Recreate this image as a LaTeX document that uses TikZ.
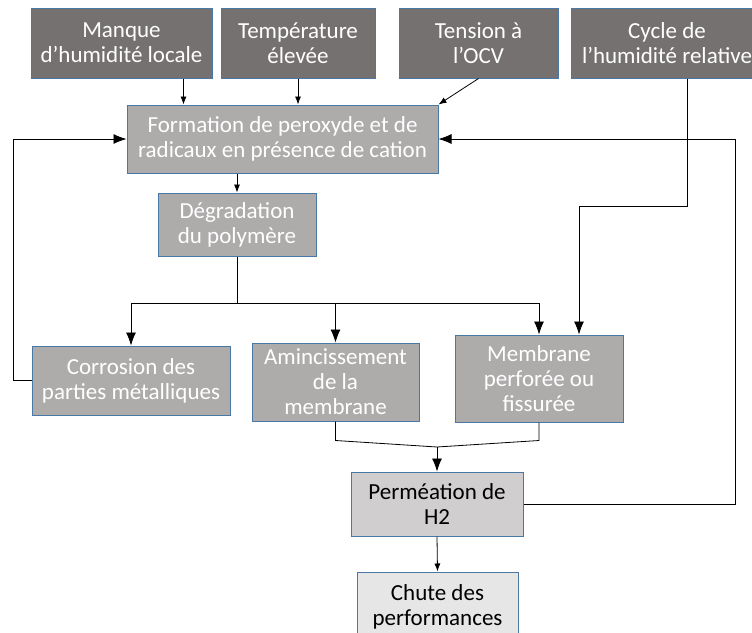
\documentclass[tikz,border=0pt]{standalone}
\usepackage{fontspec}
\setmainfont{Carlito}
\usepackage{tikz}
\usetikzlibrary{arrows.meta}
\usetikzlibrary{calc}
\definecolor{boxline}{HTML}{4A78A6}
\definecolor{darkbox}{HTML}{767171}
\definecolor{midbox}{HTML}{AEABAB}
\definecolor{lightbox}{HTML}{D0CECE}
\definecolor{palebox}{HTML}{E7E6E6}

\tikzset{
  cause/.style={draw=boxline,line width=1pt,fill=darkbox,text=white,align=center,
    inner sep=0pt,font=\fontsize{23}{25}\selectfont},
  effect/.style={cause,fill=midbox},
  result/.style={cause,fill=lightbox,text=black},
  final/.style={cause,fill=palebox,text=black},
  link/.style={black,line width=0.8pt},
  smallarr/.style={link,-{Latex[length=8pt,width=6pt]}},
  bigarr/.style={link,-{Latex[length=13pt,width=10pt]}}
}

\begin{document}
\begin{tikzpicture}[x=1pt,y=-1pt]
  \useasboundingbox (0,0) rectangle (752,632);
  % causes
  \node[cause,minimum width=181pt,minimum height=70pt] (manque) at (121.5,43) {Manque\\d’humidité locale};
  \node[cause,minimum width=154pt,minimum height=70pt] (temp) at (298,43) {Température\\élevée};
  \node[cause,minimum width=159pt,minimum height=70pt] (tension) at (478.5,43) {Tension à\\l’OCV};
  \node[cause,minimum width=192pt,minimum height=70pt] (cycle) at (667,43) {Cycle de\\l’humidité relative};
  % degradation chain
  \node[effect,minimum width=311pt,minimum height=68pt] (form) at (282.5,139) {Formation de peroxyde et de\\radicaux en présence de cation};
  \node[effect,minimum width=158pt,minimum height=63pt] (degr) at (237,224.5) {Dégradation\\du polymère};
  \node[effect,minimum width=198pt,minimum height=69pt] (corr) at (131,380.5) {Corrosion des\\parties métalliques};
  \node[effect,minimum width=167pt,minimum height=78pt] (aminc) at (335.5,382) {Amincissement\\de la\\membrane};
  \node[effect,minimum width=168pt,minimum height=87pt] (memb) at (539,378.5) {Membrane\\perforée ou\\fissurée};
  \node[result,minimum width=172pt,minimum height=64pt] (perm) at (437,504) {Perméation de\\H2};
  \node[final,minimum width=161pt,minimum height=70pt] (chute) at (437.5,607) {Chute des\\performances};
  \coordinate (split) at (237,303);
  \coordinate (merge) at (437,447);

  \draw[smallarr] ([xshift=-29pt]manque.south east) -- ([xshift=-29pt]manque.south east |- form.north);
  \draw[smallarr] (temp.south) -- (temp.south |- form.north);
  \draw[smallarr] (tension.south) -- (form.north east);
  \draw[smallarr] (degr.north |- form.south) -- (degr.north);
  \draw[link] (degr.south) -- (split);
  \foreach \n in {corr,aminc,memb}
    \draw[bigarr] (split) -| (\n.north);
  \draw[bigarr] ([xshift=20pt]cycle.south) -- ++(0,128) -| ([xshift=40pt]memb.north);
  \draw[bigarr] (corr.west) -- ++(-18,0) |- (form.west);
  \draw[bigarr] (perm.east) -- ++(212,0) |- (form.east);
  \draw[link] (aminc.south) -- ++(0,19) -- (merge);
  \draw[link] (memb.south) -- ++(0,18) -- (merge);
  \draw[bigarr] (merge) -- (perm.north);
  \draw[smallarr] (perm.south) -- (chute.north);
\end{tikzpicture}
\end{document}
